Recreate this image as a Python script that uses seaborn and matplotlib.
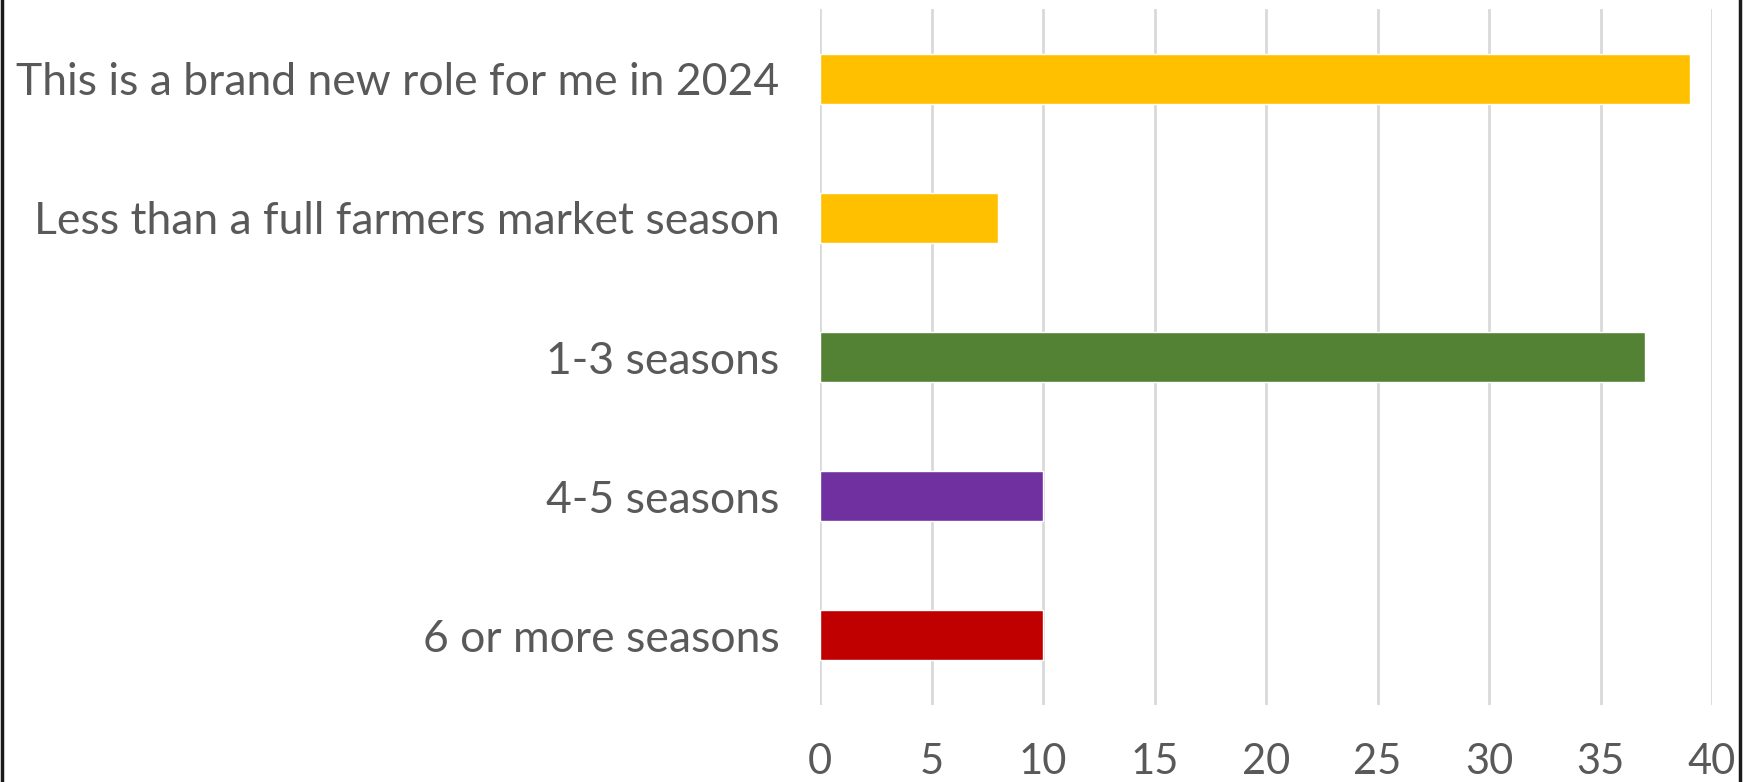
import matplotlib
matplotlib.use("Agg")
import matplotlib.pyplot as plt
import seaborn as sns
import pandas as pd
from matplotlib.patches import Rectangle

categories = [
    "This is a brand new role for me in 2024",
    "Less than a full farmers market season",
    "1-3 seasons",
    "4-5 seasons",
    "6 or more seasons",
]
values = [39, 8, 37, 10, 10]
colors = ["#FFC000", "#FFC000", "#548235", "#7030A0", "#C00000"]
x_ticks = [0, 5, 10, 15, 20, 25, 30, 35, 40]

sns.set_theme(style="white")
plt.rcParams["font.family"] = ["Lato", "DejaVu Sans"]

df = pd.DataFrame({"category": categories, "value": values})

fig = plt.figure(figsize=(17.52, 7.82), dpi=100)
ax = fig.add_axes([820 / 1752, 1 - 705 / 782, (1712 - 820) / 1752, (705 - 9) / 782])

sns.barplot(data=df, y="category", x="value", hue="category",
            palette=colors, order=categories, hue_order=categories,
            width=0.36, legend=False, ax=ax, saturation=1)

ax.set_xlim(0, 40)
ax.set_ylim(4.5, -0.5)
ax.set_xticks(x_ticks)
ax.set_xticklabels([str(t) for t in x_ticks])
ax.xaxis.grid(True, color="#D9D9D9", linewidth=2)
ax.yaxis.grid(False)
ax.set_axisbelow(True)
for s in ax.spines.values():
    s.set_visible(False)
ax.set_xlabel("")
ax.set_ylabel("")
ax.tick_params(axis="y", length=0, pad=29, labelsize=32, labelcolor="#595959")
ax.tick_params(axis="x", length=0, pad=27, labelsize=30, labelcolor="#595959")

fig.patches.append(Rectangle((1.5 / 1752, -0.02), (1739.5 - 1.5) / 1752, 1.04,
                             transform=fig.transFigure, fill=False,
                             edgecolor="#1a1a1a", linewidth=2.5, zorder=10))

fig.savefig("out.png", dpi=100)
